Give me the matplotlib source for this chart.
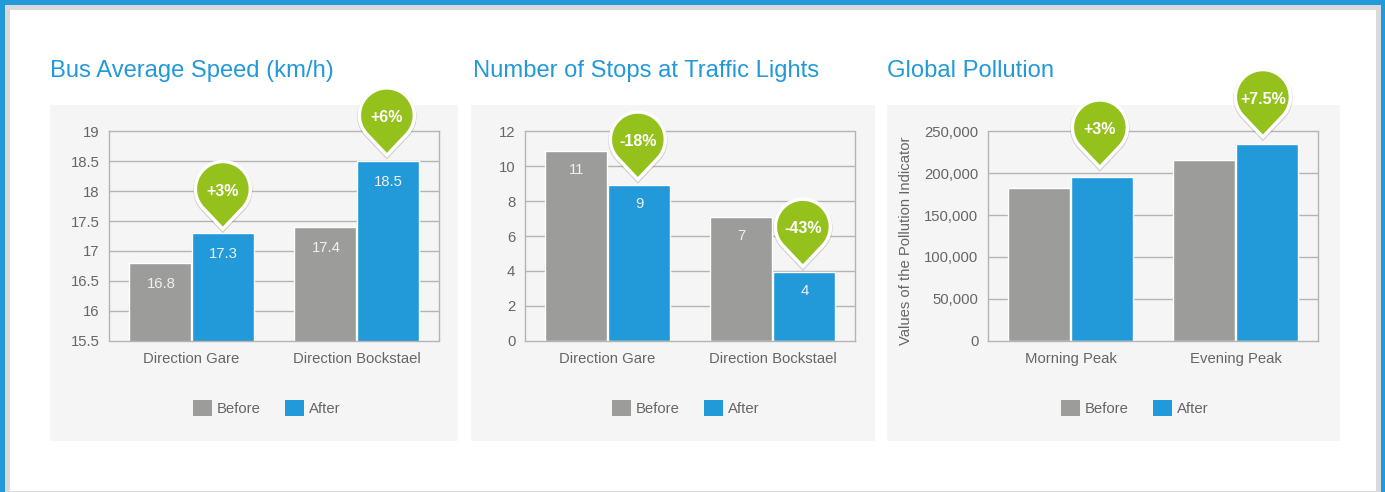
import numpy as np
import matplotlib
matplotlib.use("Agg")
import matplotlib.pyplot as plt
from matplotlib.patches import Rectangle, PathPatch
from matplotlib.path import Path
from matplotlib.transforms import Affine2D

plt.rcParams['font.family'] = ['Liberation Sans', 'DejaVu Sans']

W, H = 1385, 492
BLUE = '#2299d8'
GRAY = '#9c9c9a'
GREEN = '#95c11c'
TEXT = '#666666'
LINE = '#b4b4b4'
PANEL = '#f5f5f5'
FS = 10.7

# data
speed_cats = ['Direction Gare', 'Direction Bockstael']
speed_before = [16.8, 17.4]
speed_after = [17.3, 18.5]
speed_labels_before = ['16.8', '17.4']
speed_labels_after = ['17.3', '18.5']
speed_pins = ['+3%', '+6%']
speed_ticks = [15.5, 16, 16.5, 17, 17.5, 18, 18.5, 19]
speed_ticklabels = ['15.5', '16', '16.5', '17', '17.5', '18', '18.5', '19']

stops_cats = ['Direction Gare', 'Direction Bockstael']
stops_before = [10.9, 7.1]
stops_after = [8.9, 3.95]
stops_labels_before = ['11', '7']
stops_labels_after = ['9', '4']
stops_pins = ['-18%', '-43%']
stops_ticks = [0, 2, 4, 6, 8, 10, 12]
stops_ticklabels = ['0', '2', '4', '6', '8', '10', '12']

poll_cats = ['Morning Peak', 'Evening Peak']
poll_before = [183000, 216000]
poll_after = [195000, 235000]
poll_pins = ['+3%', '+7.5%']
poll_ticks = [0, 50000, 100000, 150000, 200000, 250000]
poll_ticklabels = ['0', '50,000', '100,000', '150,000', '200,000', '250,000']

fig = plt.figure(figsize=(W / 100, H / 100), dpi=100, facecolor='white')


def px_rect(x0, y0, x1, y1, color):
    fig.patches.append(Rectangle((x0 / W, 1 - y1 / H), (x1 - x0) / W, (y1 - y0) / H,
                                 transform=fig.transFigure, facecolor=color,
                                 edgecolor='none', zorder=-1))


def pin(ax, x, y, label, shift):
    # teardrop marker, tip sits just above the bar
    tx, ty = ax.transData.transform((x, y))
    tx += shift[0]
    ty += shift[1]
    r, d = 27.5, 40
    a = np.degrees(np.arccos(r / d))
    arc = Path.arc(-90 + a, 270 - a)
    verts = np.vstack([[0, 0], arc.vertices * r + [0, d], [0, 0]])
    codes = [Path.MOVETO, Path.LINETO] + list(arc.codes[1:]) + [Path.CLOSEPOLY]
    shape = Path(verts, codes)
    shadow = PathPatch(shape, transform=Affine2D().translate(tx, ty - 1), facecolor='#000000',
                       edgecolor='#000000', lw=3.2, alpha=0.15, clip_on=False, zorder=8)
    body = PathPatch(shape, transform=Affine2D().translate(tx, ty), facecolor=GREEN,
                     edgecolor='white', lw=2.5, joinstyle='miter', clip_on=False, zorder=9)
    fig.add_artist(shadow)
    fig.add_artist(body)
    fig.text(tx / W, (ty + d - 2) / H, label, color='white', fontsize=11.5, fontweight='bold',
             ha='center', va='center', zorder=10)


def chart(panel, box, title, title_x, cats, before, after, ticks, ticklabels,
          labels_before, labels_after, pins, shifts, legend_x, drop=20):
    px_rect(panel[0], 105, panel[1], 441, PANEL)
    fig.text(title_x / W, 1 - 71 / H, title, color=BLUE, fontsize=17.15, ha='left', va='center')
    ax = fig.add_axes([box[0] / W, 1 - 340.5 / H, (box[1] - box[0]) / W, 209 / H])
    ax.set_facecolor('none')
    x = np.arange(len(cats))
    w = 0.375
    b1 = ax.bar(x - 0.19, before, w, color=GRAY, edgecolor='white', lw=1, zorder=3, label='Before')
    b2 = ax.bar(x + 0.19, after, w, color=BLUE, edgecolor='white', lw=1, zorder=3, label='After')
    ax.set_xlim(-0.5, 1.5)
    ax.set_ylim(ticks[0], ticks[-1])
    ax.set_yticks(ticks, ticklabels)
    ax.set_xticks(x, cats)
    ax.tick_params(length=0, labelsize=FS, labelcolor=TEXT)
    ax.tick_params(axis='y', pad=7)
    ax.tick_params(axis='x', pad=8)
    ax.grid(axis='y', color=LINE, lw=1, zorder=1)
    ax.set_axisbelow(True)
    # first and last gridline sit on the frame
    ax.yaxis.get_gridlines()[0].set_visible(False)
    ax.yaxis.get_gridlines()[-1].set_visible(False)
    for s in ax.spines.values():
        s.set_color(LINE)
        s.set_linewidth(1)
    ax.spines['bottom'].set_zorder(4)
    if labels_before:
        for rects, labs in ((b1, labels_before), (b2, labels_after)):
            for r, lab in zip(rects, labs):
                ax.annotate(lab, (r.get_x() + r.get_width() / 2, r.get_height()),
                            xytext=(0.5, -drop * 0.72), textcoords='offset points', color='#f0f0f0',
                            fontsize=FS, ha='center', va='center', zorder=5)
    for i in range(len(cats)):
        pin(ax, x[i] + 0.19, after[i], pins[i], shifts[i])
    leg = ax.legend(loc='center', bbox_to_anchor=(legend_x / W, 1 - 408 / H),
                    bbox_transform=fig.transFigure, ncol=2, frameon=False, fontsize=FS,
                    labelcolor=TEXT, handlelength=1.28, handleheight=1.28, handletextpad=0.34,
                    columnspacing=1.62, borderpad=0, borderaxespad=0)
    for h in leg.legend_handles:
        h.set_edgecolor('none')
    return ax


# page border
px_rect(5, 5, 1381, 492, '#d9d9d9')
px_rect(10, 10, 1376, 491, 'white')
px_rect(0, 0, W, 5, BLUE)
px_rect(0, 0, 5, H, BLUE)
px_rect(1381, 0, W, H, BLUE)

chart((50, 458), (109, 439), 'Bus Average Speed (km/h)', 50, speed_cats, speed_before, speed_after,
      speed_ticks, speed_ticklabels, speed_labels_before, speed_labels_after, speed_pins,
      ((0, 4), (-1, 6)), 267, drop=21)
chart((471, 875), (525, 855), 'Number of Stops at Traffic Lights', 473, stops_cats, stops_before, stops_after,
      stops_ticks, stops_ticklabels, stops_labels_before, stops_labels_after, stops_pins,
      ((-1, 6), (-1, 5)), 686, drop=19)
chart((887, 1340), (988, 1318), 'Global Pollution', 887, poll_cats, poll_before, poll_after,
      poll_ticks, poll_ticklabels, None, None, poll_pins, ((-2, 10), (-4, 7)), 1135)
fig.text(906 / W, 1 - 241 / H, 'Values of the Pollution Indicator', color=TEXT, fontsize=FS,
         rotation=90, ha='center', va='center')

fig.savefig('out.png', dpi=100)
